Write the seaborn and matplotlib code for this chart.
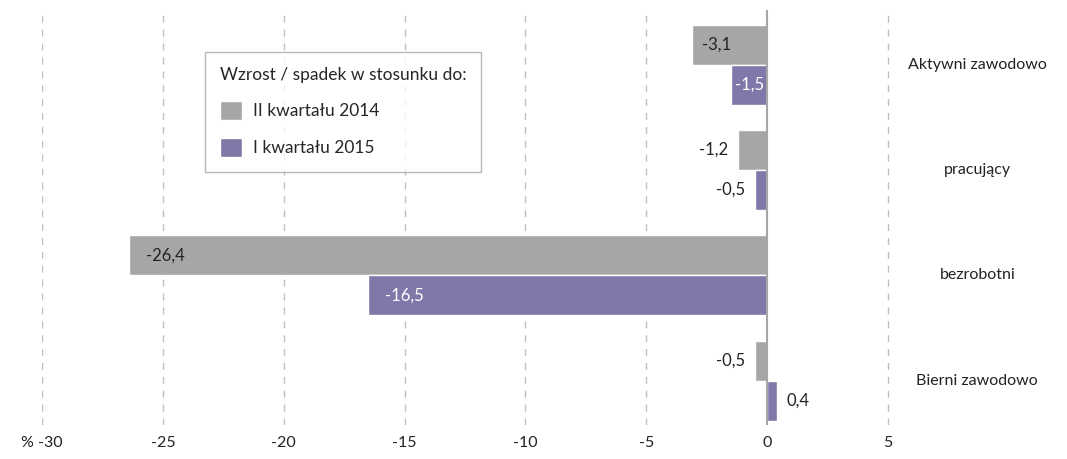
import pandas as pd
import numpy as np
import matplotlib.pyplot as plt
import seaborn as sns

# Data

categories = ["Aktywni zawodowo", "pracujący", "bezrobotni", "Bierni zawodowo"]
series_names = ["II kwartału 2014", "I kwartału 2015"]
vs_2014q2 = [-3.1, -1.2, -26.4, -0.5]
vs_2015q1 = [-1.5, -0.5, -16.5, 0.4]
x_ticks = [-30, -25, -20, -15, -10, -5, 0, 5]
x_tick_labels = ["% -30", "-25", "-20", "-15", "-10", "-5", "0", "5"]
legend_title = "Wzrost / spadek w stosunku do:"

df = pd.DataFrame({
    "kategoria": categories * 2,
    "okres": [series_names[0]] * 4 + [series_names[1]] * 4,
    "zmiana": vs_2014q2 + vs_2015q1,
})

sns.set_style("white")
plt.rcParams["font.family"] = ["Lato", "DejaVu Sans"]

colors = {series_names[0]: "#A6A6A6", series_names[1]: "#8078A9"}
fs = 11.5

fig = plt.figure(figsize=(10.67, 4.59), dpi=100)
ax = fig.add_axes([42 / 1067, 34 / 459, (1060 - 42) / 1067, 415 / 459])

sns.barplot(
    data=df,
    y="kategoria",
    x="zmiana",
    hue="okres",
    hue_order=series_names,
    order=categories,
    palette=colors,
    orient="h",
    width=0.76,
    saturation=1,
    ax=ax,
)

xmax = 5 + (1060 - 888) / 24.15
ax.set_xlim(-30, xmax)
ax.set_ylim(3.42, -0.52)

# grid
for t in x_ticks:
    if t == 0:
        ax.axvline(0, color="#A6A6A6", lw=1.5, zorder=3)
    else:
        ax.axvline(t, color="#BFBFBF", lw=1, ls=(0, (5, 5)), zorder=0)

ax.set_xticks(x_ticks)
ax.set_xticklabels(x_tick_labels, fontsize=fs, color="#222222")
ax.tick_params(axis="x", length=0, pad=8)
ax.set_yticks([])
ax.set_xlabel("")
ax.set_ylabel("")
for s in ax.spines.values():
    s.set_visible(False)

# category labels at right
for i, cat in enumerate(categories):
    ax.text(8.7, i, cat, ha="center", va="center", fontsize=fs, color="#222222")

# bar labels
for ci, cont in enumerate(ax.containers):
    vals = [vs_2014q2, vs_2015q1][ci]
    for bar, v in zip(cont, vals):
        y = bar.get_y() + bar.get_height() / 2
        txt = f"{v:.1f}".replace(".", ",")
        if abs(v) >= 1.5:
            col = "#222222" if ci == 0 else "white"
            ax.text(v + min(0.7, 0.13 * abs(v)), y, txt, ha="left", va="center",
                    fontsize=12, color=col)
        elif v < 0:
            ax.text(v - 0.4, y, txt, ha="right", va="center", fontsize=12, color="#222222")
        else:
            ax.text(v + 0.4, y, txt, ha="left", va="center", fontsize=12, color="#222222")

leg = ax.legend(
    title=legend_title,
    loc="upper left",
    bbox_to_anchor=(205 / 1067, 1 - 52 / 459),
    bbox_transform=fig.transFigure,
    borderaxespad=0,
    frameon=True,
    fancybox=False,
    fontsize=12.5,
    title_fontsize=12.5,
    handlelength=1.3,
    handleheight=1.3,
    handletextpad=0.6,
    labelspacing=1.05,
    borderpad=0.85,
)
leg.get_frame().set_edgecolor("#A6A6A6")
leg.get_frame().set_linewidth(1)
leg._legend_box.align = "left"

fig.savefig("out.png", dpi=100)
